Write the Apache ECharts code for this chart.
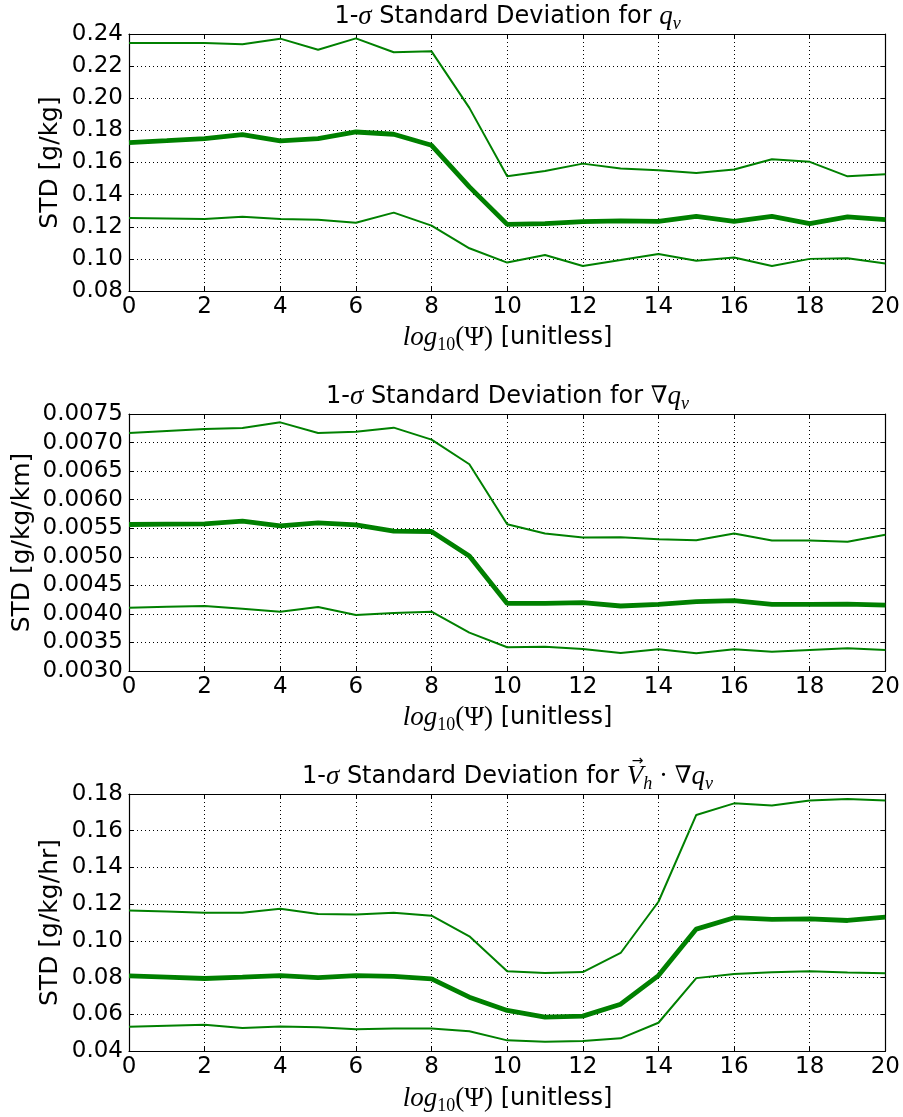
<!DOCTYPE html>
<html><head><meta charset="utf-8">
<script src="https://cdn.jsdelivr.net/npm/echarts@6/dist/echarts.min.js"></script>
<style>html,body{margin:0;padding:0;background:#fff}#c{width:903px;height:1117px}</style>
</head><body><div id="c"></div>
<script>
// log10(Psi) values
const psi = [0,1,2,3,4,5,6,7,8,9,10,11,12,13,14,15,16,17,18,19,20];

// Panel 1: q_v  [g/kg]
const qvUpper = [0.2344,0.2344,0.2344,0.2336,0.2371,0.2302,0.2373,0.2286,0.2292,0.1940,0.1514,0.1547,0.1593,0.1562,0.1552,0.1535,0.1556,0.1620,0.1604,0.1514,0.1527];
const qvMid   = [0.1724,0.1736,0.1749,0.1773,0.1734,0.1749,0.1790,0.1776,0.1707,0.1448,0.1215,0.1219,0.1232,0.1236,0.1234,0.1265,0.1234,0.1265,0.1219,0.1261,0.1244];
const qvLower = [0.1255,0.1252,0.1249,0.1263,0.1249,0.1244,0.1225,0.1288,0.1207,0.1066,0.0977,0.1024,0.0956,0.0993,0.1031,0.0989,0.1008,0.0956,0.1000,0.1004,0.0971];

// Panel 2: grad q_v [g/kg/km]
const gqUpper = [0.007168,0.007203,0.007238,0.007255,0.007354,0.007168,0.007191,0.007261,0.007051,0.006620,0.005571,0.005408,0.005338,0.005344,0.005309,0.005291,0.005408,0.005286,0.005286,0.005262,0.005385];
const gqMid   = [0.005565,0.005571,0.005577,0.005624,0.005542,0.005594,0.005559,0.005449,0.005443,0.005012,0.004184,0.004184,0.004196,0.004138,0.004167,0.004213,0.004231,0.004167,0.004167,0.004172,0.004155];
const gqLower = [0.004108,0.004123,0.004138,0.004091,0.004038,0.004120,0.003980,0.004015,0.004038,0.003671,0.003415,0.003426,0.003386,0.003316,0.003380,0.003310,0.003380,0.003339,0.003368,0.003397,0.003368];

// Panel 3: Vh . grad q_v [g/kg/hr]
const adUpper = [0.1166,0.1160,0.1153,0.1153,0.1175,0.1146,0.1144,0.1153,0.1137,0.1025,0.0834,0.0825,0.0830,0.0934,0.1213,0.1686,0.1749,0.1737,0.1764,0.1773,0.1764];
const adMid   = [0.0809,0.0802,0.0795,0.0802,0.0811,0.0800,0.0811,0.0806,0.0793,0.0693,0.0621,0.0584,0.0590,0.0655,0.0811,0.1064,0.1126,0.1117,0.1120,0.1111,0.1129];
const adLower = [0.0532,0.0538,0.0543,0.0525,0.0534,0.0530,0.0519,0.0523,0.0523,0.0508,0.0458,0.0451,0.0454,0.0469,0.0554,0.0797,0.0820,0.0829,0.0834,0.0827,0.0824];

const yRanges = [
  {min:0.08, max:0.24, interval:0.02, dec:2},
  {min:0.003, max:0.0075, interval:0.0005, dec:4},
  {min:0.04, max:0.18, interval:0.02, dec:2}
];
const panels = [[qvUpper,qvMid,qvLower],[gqUpper,gqMid,gqLower],[adUpper,adMid,adLower]];
const yLabels = ['STD [g/kg]', 'STD [g/kg/km]', 'STD [g/kg/hr]'];

const SANS = 'DejaVu Sans';
const SERIF = 'Liberation Serif';
const GREEN = '#008000';
const tops = [34, 414, 794];
const PH = 257;
const LEFT = 129, RIGHT = 17;
const TICK_FS = 23;

const grids = tops.map(t => ({left: LEFT, right: RIGHT, top: t, height: PH, show: false}));
const xAxes = [], yAxes = [], series = [];
tops.forEach((t, i) => {
  xAxes.push({gridIndex:i, type:'value', min:0, max:20, interval:2, position:'bottom',
    axisLine:{onZero:false, lineStyle:{color:'#000', width:1.2}},
    axisTick:{inside:true, length:5, lineStyle:{color:'#000'}},
    axisLabel:{color:'#000', fontFamily:SANS, fontSize:TICK_FS, margin:5},
    splitLine:{show:true, lineStyle:{color:'#000', type:[1,3], width:1}}});
  xAxes.push({gridIndex:i, type:'value', min:0, max:20, interval:2, position:'top',
    axisLine:{onZero:false, lineStyle:{color:'#000', width:1.2}},
    axisTick:{inside:true, length:5, lineStyle:{color:'#000'}},
    axisLabel:{show:false}, splitLine:{show:false}});
  const r = yRanges[i];
  yAxes.push({gridIndex:i, type:'value', min:r.min, max:r.max, interval:r.interval, position:'left',
    axisLine:{show:true, onZero:false, lineStyle:{color:'#000', width:1.2}},
    axisTick:{show:true, inside:true, length:5, lineStyle:{color:'#000'}},
    axisLabel:{color:'#000', fontFamily:SANS, fontSize:TICK_FS, margin:6, showMinLabel:true, showMaxLabel:true,
      formatter: v => v.toFixed(r.dec)},
    splitLine:{show:true, lineStyle:{color:'#000', type:[1,3], width:1}}});
  yAxes.push({gridIndex:i, type:'value', min:r.min, max:r.max, interval:r.interval, position:'right',
    axisLine:{show:true, onZero:false, lineStyle:{color:'#000', width:1.2}},
    axisTick:{show:true, inside:true, length:5, lineStyle:{color:'#000'}},
    axisLabel:{show:false}, splitLine:{show:false}});
  const [u, m, l] = panels[i];
  const mk = (arr, w) => ({type:'line', xAxisIndex:2*i, yAxisIndex:2*i, symbol:'none', silent:true,
    lineStyle:{color:GREEN, width:w}, data: psi.map((x, k) => [x, arr[k]]), animation:false});
  series.push(mk(u, 2), mk(m, 4.8), mk(l, 2));
});

const FS = 24, MFS = 27, SFS = 18;
const styles = {
  n: {fontFamily:SANS, fontSize:FS, fontStyle:'normal'},
  m: {fontFamily:SERIF, fontSize:MFS, fontStyle:'italic'},
  u: {fontFamily:SERIF, fontSize:MFS, fontStyle:'normal'},
  g: {fontFamily:'DejaVu Serif', fontSize:24, fontStyle:'normal'},
  s: {fontFamily:SERIF, fontSize:SFS, fontStyle:'italic'},
  d: {fontFamily:SERIF, fontSize:SFS, fontStyle:'normal'}
};
const rich = {};
Object.keys(styles).forEach(k => {
  const sub = (k === 's' || k === 'd');
  rich[k] = Object.assign({color:'#000', lineHeight: sub ? 6 : 32, verticalAlign: sub ? 'bottom' : 'middle'}, styles[k]);
});
// token lists: [style, text]
const titleTokens = [
  [['n','1-'],['m','σ'],['n',' Standard Deviation for '],['m','q'],['s','v']],
  [['n','1-'],['m','σ'],['n',' Standard Deviation for '],['g','∇'],['m','q'],['s','v']],
  [['n','1-'],['m','σ'],['n',' Standard Deviation for '],['m','V'],['s','h'],['u',' · '],['g','∇'],['m','q'],['s','v']]
];
const xLabelTokens = [['m','log'],['d','10'],['u','(Ψ)'],['n',' [unitless]']];
const toRich = toks => toks.map(([s, t]) => '{' + s + '|' + t + '}').join('');

const ctx = document.createElement('canvas').getContext('2d');
const tokW = ([s, t]) => { const st = styles[s]; ctx.font = st.fontStyle + ' ' + st.fontSize + 'px "' + st.fontFamily + '"'; return ctx.measureText(t).width; };

const titleY = [17, 397, 777];
const xLabY = [338, 718, 1099];
const yLabX = [50, 22, 50];
const cx = LEFT + (903 - LEFT - RIGHT) / 2;

const graphic = [];
tops.forEach((t, i) => {
  graphic.push({type:'text', x:cx, y:titleY[i], style:{text:toRich(titleTokens[i]), rich, align:'center', verticalAlign:'middle'}});
  graphic.push({type:'text', x:cx, y:xLabY[i], style:{text:toRich(xLabelTokens), rich, align:'center', verticalAlign:'middle'}});
  graphic.push({type:'text', x:yLabX[i], y:t + PH/2, rotation:Math.PI/2,
    style:{text:yLabels[i], fontFamily:SANS, fontSize:25, fill:'#000', align:'center', verticalAlign:'middle'}});
});
// vector arrow over V in third title
(function(){
  const toks = titleTokens[2];
  const total = toks.reduce((a, tk) => a + tokW(tk), 0);
  let x0 = cx - total / 2;
  for (let k = 0; k < toks.length; k++) {
    if (toks[k][1] === 'V') { const w = tokW(toks[k]); graphic.push({type:'text', x:x0 + w*0.66, y:titleY[2] - 16,
      style:{text:'→', fontFamily:SANS, fontSize:14, fill:'#000', align:'center', verticalAlign:'middle'}}); break; }
    x0 += tokW(toks[k]);
  }
})();

const chart = echarts.init(document.getElementById('c'), null, {renderer:'canvas'});
chart.setOption({animation:false, backgroundColor:'#fff', grid:grids, xAxis:xAxes, yAxis:yAxes, series, graphic});
</script></body></html>
